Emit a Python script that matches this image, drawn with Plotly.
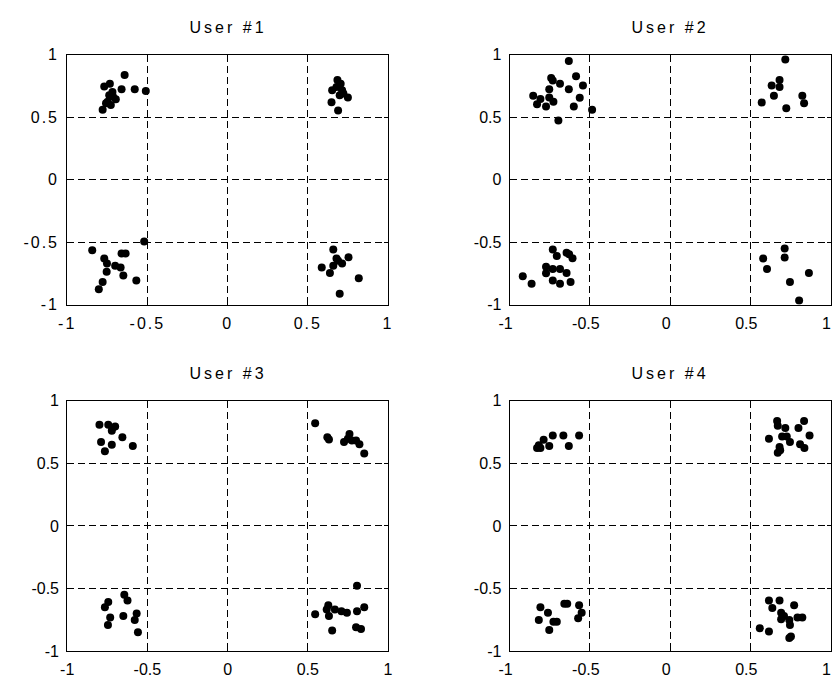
import plotly.graph_objects as go

# ---------------- data ----------------
titles = ["User #1", "User #2", "User #3", "User #4"]
tick_vals = [-1, -0.5, 0, 0.5, 1]
tick_text = ["-1", "-0.5", "0", "0.5", "1"]

u1_x = [-0.642, -0.769, -0.734, -0.661, -0.579, -0.510, -0.718, -0.738, -0.697, -0.748, -0.728, -0.779, -0.758, -0.714,
        0.685, 0.705, 0.652, 0.714, 0.699, 0.750, 0.648, 0.689, 0.679, 0.722,
        -0.520, -0.844, -0.661, -0.636, -0.769, -0.752, -0.701, -0.667, -0.754, -0.650, -0.569, -0.779, -0.803,
        0.659, 0.679, 0.754, 0.587, 0.714, 0.659, 0.638, 0.818, 0.699, 0.689]
u1_y = [0.836, 0.745, 0.766, 0.722, 0.722, 0.709, 0.701, 0.675, 0.642, 0.623, 0.597, 0.558, 0.610, 0.662,
        0.797, 0.766, 0.714, 0.714, 0.675, 0.657, 0.618, 0.553, 0.740, 0.688,
        -0.494, -0.564, -0.590, -0.590, -0.631, -0.670, -0.688, -0.701, -0.735, -0.766, -0.805, -0.818, -0.875,
        -0.558, -0.631, -0.621, -0.701, -0.670, -0.688, -0.745, -0.787, -0.912, -0.649]

u2_x = [-0.631, -0.586, -0.741, -0.686, -0.543, -0.753, -0.631, -0.853, -0.808, -0.753, -0.727, -0.563, -0.829, -0.773, -0.600, -0.486, -0.696, -0.731,
        0.718, 0.682, 0.633, 0.682, 0.647, 0.824, 0.835, 0.571, 0.724,
        -0.731, -0.645, -0.629, -0.608, -0.706, -0.773, -0.731, -0.686, -0.773, -0.645, -0.918, -0.863, -0.731, -0.686, -0.620,
        0.714, 0.714, 0.580, 0.604, 0.865, 0.747, 0.804]
u2_y = [0.948, 0.826, 0.813, 0.766, 0.753, 0.722, 0.722, 0.670, 0.644, 0.657, 0.623, 0.655, 0.603, 0.584, 0.584, 0.558, 0.473, 0.792,
        0.961, 0.797, 0.753, 0.740, 0.670, 0.670, 0.610, 0.616, 0.571,
        -0.558, -0.584, -0.597, -0.629, -0.610, -0.696, -0.714, -0.714, -0.748, -0.745, -0.771, -0.831, -0.805, -0.831, -0.818,
        -0.551, -0.623, -0.631, -0.714, -0.745, -0.818, -0.966]

u3_x = [-0.799, -0.744, -0.701, -0.722, -0.656, -0.789, -0.722, -0.591, -0.765, -0.718,
        0.546, 0.622, 0.632, 0.760, 0.726, 0.775, 0.801, 0.822, 0.852, 0.750,
        -0.644, -0.624, -0.744, -0.765, -0.650, -0.732, -0.567, -0.579, -0.746, -0.559,
        0.807, 0.628, 0.852, 0.618, 0.710, 0.744, 0.807, 0.546, 0.632, 0.652, 0.801, 0.832, 0.669]
u3_y = [0.808, 0.808, 0.795, 0.761, 0.709, 0.670, 0.649, 0.639, 0.597, 0.782,
        0.821, 0.709, 0.691, 0.735, 0.670, 0.683, 0.683, 0.652, 0.579, 0.696,
        -0.551, -0.595, -0.608, -0.649, -0.719, -0.732, -0.699, -0.751, -0.792, -0.849,
        -0.478, -0.634, -0.649, -0.668, -0.681, -0.694, -0.681, -0.706, -0.719, -0.836, -0.810, -0.823, -0.668]

u4_x = [-0.567, -0.665, -0.731, -0.788, -0.631, -0.753, -0.829, -0.808, -0.818,
        0.667, 0.835, 0.671, 0.718, 0.800, 0.616, 0.698, 0.727, 0.869, 0.747, 0.682, 0.671, 0.810, 0.837, 0.686,
        -0.659, -0.641, -0.567, -0.808, -0.761, -0.551, -0.573, -0.818, -0.727, -0.706, -0.753,
        0.616, 0.682, 0.773, 0.637, 0.692, 0.710, 0.692, 0.743, 0.794, 0.824, 0.747, 0.559, 0.616, 0.743, 0.753]
u4_y = [0.722, 0.722, 0.722, 0.688, 0.639, 0.639, 0.623, 0.623, 0.644,
        0.839, 0.839, 0.800, 0.782, 0.782, 0.696, 0.714, 0.714, 0.722, 0.670, 0.631, 0.584, 0.652, 0.623, 0.605,
        -0.621, -0.621, -0.634, -0.649, -0.694, -0.694, -0.738, -0.751, -0.766, -0.766, -0.831,
        -0.595, -0.595, -0.634, -0.655, -0.694, -0.719, -0.745, -0.751, -0.732, -0.732, -0.792, -0.818, -0.844, -0.896, -0.883]

series = [(u1_x, u1_y), (u2_x, u2_y), (u3_x, u3_y), (u4_x, u4_y)]

# ---------------- layout ----------------
W, H = 839, 690
x_domains = [[57.3 / W, 384.3 / W], [508.3 / W, 835.5 / W]]
y_domains = [[1 - 304.3 / H, 1 - 47.7 / H], [1 - 659.3 / H, 1 - 402.7 / H]]
FONT = "Liberation Sans, Arial, sans-serif"
FS = 16

fig = go.Figure()
layout = dict(
    width=W, height=H,
    margin=dict(l=0, r=0, t=0, b=0),
    paper_bgcolor="white", plot_bgcolor="white",
    showlegend=False,
    font=dict(family=FONT, size=FS, color="black"),
    annotations=[],
)

for i, (xs, ys) in enumerate(series):
    row, col = divmod(i, 2)
    n = i + 1
    xa = "x" if n == 1 else f"x{n}"
    ya = "y" if n == 1 else f"y{n}"
    fig.add_trace(go.Scatter(
        x=xs, y=ys, mode="markers", xaxis=xa, yaxis=ya,
        marker=dict(size=8, color="black", line=dict(width=0)),
        hoverinfo="skip",
    ))
    common = dict(
        range=[-1, 1], tickvals=tick_vals, ticktext=tick_text,
        showgrid=True, gridcolor="black", gridwidth=1, griddash="7px,4px",
        zeroline=False, showline=True, linecolor="black", linewidth=1, mirror="ticks",
        ticks="inside", ticklen=4, tickcolor="black",
        tickfont=dict(family=FONT, size=FS, color="black"),
        fixedrange=True,
    )
    layout["xaxis" if n == 1 else f"xaxis{n}"] = dict(
        common, domain=x_domains[col], anchor=ya, ticklabelstandoff=4,
        ticklabelshift=(-4 if col == 1 else 0))
    layout["yaxis" if n == 1 else f"yaxis{n}"] = dict(
        common, domain=y_domains[row], anchor=xa, ticklabelstandoff=4)
    cx = (x_domains[col][0] + x_domains[col][1]) / 2
    layout["annotations"].append(dict(
        text=titles[i], x=cx, y=y_domains[row][1], xref="paper", yref="paper",
        xanchor="center", yanchor="middle", yshift=27, showarrow=False,
        font=dict(family=FONT, size=FS, color="black"),
    ))

fig.update_layout(**layout)

post = (
    "document.body.style.margin='0';document.body.style.overflow='hidden';"
    "var s=document.createElement('style');"
    "s.textContent='.xtick text,.ytick text{letter-spacing:2px}.annotation-text{letter-spacing:3px}';"
    "document.head.appendChild(s);"
)
fig.write_html(
    "out.html",
    config={"displayModeBar": False, "staticPlot": True},
    post_script=post,
)
